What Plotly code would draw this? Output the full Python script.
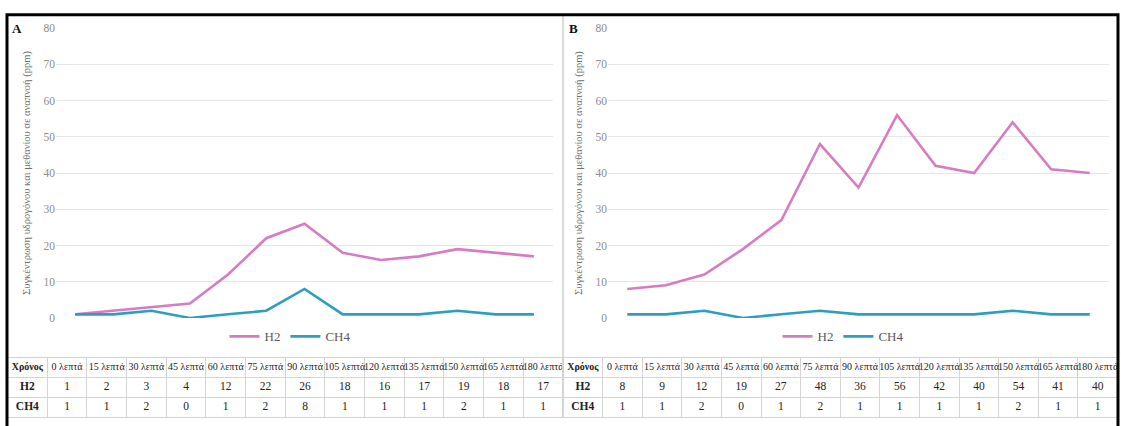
import plotly.graph_objects as go

W, H = 1121, 426

minutes = [0, 15, 30, 45, 60, 75, 90, 105, 120, 135, 150, 165, 180]
time_labels = [f"{m} λεπτά" for m in minutes]

a_h2 = [1, 2, 3, 4, 12, 22, 26, 18, 16, 17, 19, 18, 17]
a_ch4 = [1, 1, 2, 0, 1, 2, 8, 1, 1, 1, 2, 1, 1]
b_h2 = [8, 9, 12, 19, 27, 48, 36, 56, 42, 40, 54, 41, 40]
b_ch4 = [1, 1, 2, 0, 1, 2, 1, 1, 1, 1, 2, 1, 1]

panel_labels = ["A", "B"]
row_header = "Χρόνος"
series_names = ["H2", "CH4"]
y_title = "Συγκέντρωση υδρογόνου και μεθανίου σε αναπνοή (ppm)"

H2_COLOR = "#d77cc3"
CH4_COLOR = "#2e9dc2"
FONT = "Liberation Serif"
GRID = "#d4d4d4"
TXT = "#222222"


def px_x(v):
    return v / W


def px_y(v):
    return 1 - v / H


fig = go.Figure()

# line charts
for (h2, ch4, xa, ya, lg) in [
    (a_h2, a_ch4, "x", "y", "legend"),
    (b_h2, b_ch4, "x2", "y2", "legend2"),
]:
    fig.add_trace(go.Scatter(x=time_labels, y=h2, name=series_names[0], mode="lines",
                             line=dict(color=H2_COLOR, width=2.6), xaxis=xa, yaxis=ya,
                             legend=lg))
    fig.add_trace(go.Scatter(x=time_labels, y=ch4, name=series_names[1], mode="lines",
                             line=dict(color=CH4_COLOR, width=2.6), xaxis=xa, yaxis=ya,
                             legend=lg))

# data tables (drawn on categorical axes: columns x rows)
table_cols = [row_header] + time_labels
table_rows = [row_header] + series_names
for (h2, ch4, xa, ya) in [(a_h2, a_ch4, "x3", "y3"), (b_h2, b_ch4, "x4", "y4")]:
    fig.add_trace(go.Scatter(
        x=table_cols, y=[row_header] * len(table_cols), mode="text",
        text=[f"<b>{row_header}</b>"] + time_labels, textposition="middle center",
        textfont=dict(family=FONT, size=10, color=TXT),
        xaxis=xa, yaxis=ya, showlegend=False, hoverinfo="skip", cliponaxis=False))
    for name, vals in zip(series_names, [h2, ch4]):
        fig.add_trace(go.Scatter(
            x=table_cols, y=[name] * len(table_cols), mode="text",
            text=[f"<b>{name}</b>"] + [str(v) for v in vals], textposition="middle center",
            textfont=dict(family=FONT, size=11.5, color=TXT),
            xaxis=xa, yaxis=ya, showlegend=False, hoverinfo="skip", cliponaxis=False))

ydom = [px_y(321), px_y(22.7)]
yaxis_common = dict(range=[0, 80], dtick=10, showgrid=True, gridcolor="#e6e6e6",
                    gridwidth=1, zeroline=False, showline=False, ticks="",
                    tickfont=dict(family=FONT, size=11.5, color="#8c8c8c"),
                    title=dict(text=y_title, font=dict(family=FONT, size=10.5, color="#6e6e6e"),
                               standoff=10),
                    domain=ydom, fixedrange=True)
xaxis_common = dict(type="category", range=[-0.5, 12.5], showticklabels=False,
                    showgrid=False, zeroline=False, showline=False, ticks="", fixedrange=True)

tx_common = dict(type="category", categoryorder="array", categoryarray=table_cols,
                 range=[-0.5, len(table_cols) - 0.5], tickson="boundaries",
                 showgrid=True, gridcolor=GRID, gridwidth=1, showticklabels=False,
                 ticks="", zeroline=False, showline=True, mirror=True, linecolor=GRID,
                 linewidth=1, fixedrange=True)
ty_common = dict(type="category", categoryorder="array", categoryarray=table_rows,
                 range=[len(table_rows) - 0.5, -0.5], tickson="boundaries",
                 showgrid=True, gridcolor=GRID, gridwidth=1, showticklabels=False,
                 ticks="", zeroline=False, showline=True, mirror=True, linecolor=GRID,
                 linewidth=1, fixedrange=True, domain=[px_y(423), px_y(362)])

legend_common = dict(orientation="h", xanchor="center", yanchor="middle",
                     font=dict(family=FONT, size=13, color="#595959"),
                     bgcolor="rgba(0,0,0,0)", itemwidth=30, tracegroupgap=0)

fig.update_layout(
    width=W, height=H,
    margin=dict(l=0, r=0, t=0, b=0),
    paper_bgcolor="white", plot_bgcolor="white",
    xaxis=dict(domain=[px_x(56), px_x(553)], anchor="y", **xaxis_common),
    yaxis=dict(anchor="x", **yaxis_common),
    xaxis2=dict(domain=[px_x(608), px_x(1109)], anchor="y2", **xaxis_common),
    yaxis2=dict(anchor="x2", **yaxis_common),
    xaxis3=dict(domain=[px_x(7.5), px_x(563)], anchor="y3", **tx_common),
    yaxis3=dict(anchor="x3", **ty_common),
    xaxis4=dict(domain=[px_x(563), px_x(1117.5)], anchor="y4", **tx_common),
    yaxis4=dict(anchor="x4", **ty_common),
    legend=dict(x=px_x(290), y=px_y(340), **legend_common),
    legend2=dict(x=px_x(843), y=px_y(340), **legend_common),
    annotations=[
        dict(text=f"<b>{panel_labels[0]}</b>", x=px_x(17), y=px_y(23), xref="paper", yref="paper",
             xanchor="center", yanchor="middle", showarrow=False,
             font=dict(family=FONT, size=13, color="#111111")),
        dict(text=f"<b>{panel_labels[1]}</b>", x=px_x(573), y=px_y(23), xref="paper", yref="paper",
             xanchor="center", yanchor="middle", showarrow=False,
             font=dict(family=FONT, size=13, color="#111111")),
    ],
    shapes=[
        dict(type="line", xref="paper", yref="paper", x0=px_x(563), x1=px_x(563),
             y0=px_y(362), y1=px_y(9), line=dict(color="#cfcfcf", width=1.5)),
        dict(type="rect", xref="paper", yref="paper", x0=px_x(7), x1=px_x(1118),
             y0=-0.05, y1=px_y(9), line=dict(color="#000000", width=3), layer="above"),
    ],
    showlegend=True,
)

fig.write_html("out.html")
